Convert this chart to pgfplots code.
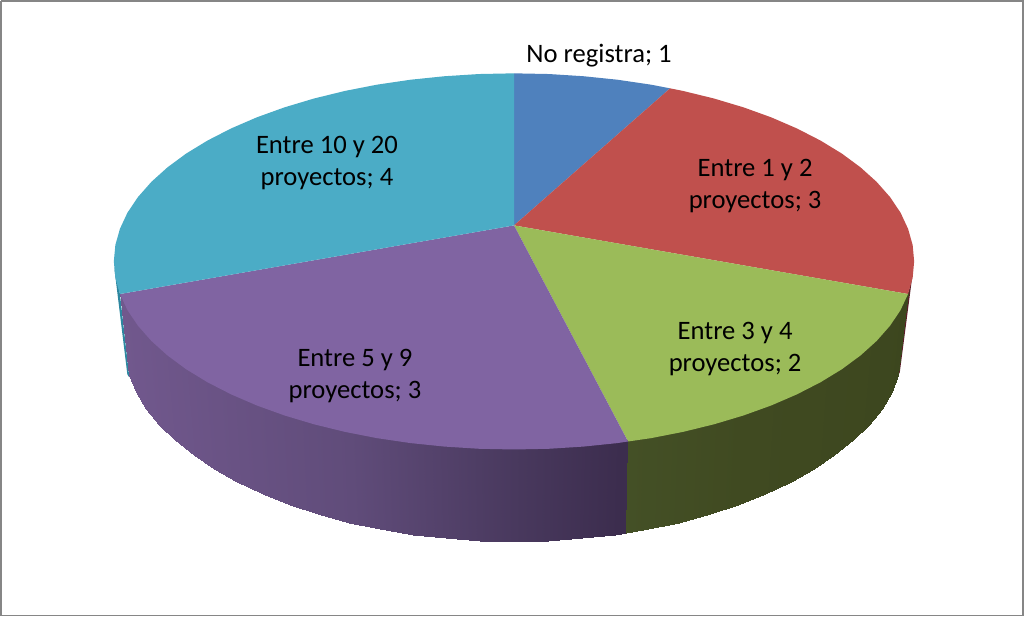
\documentclass[border=0pt]{standalone}
\usepackage{pgfplots}
\pgfplotsset{compat=1.18}
\usepackage{fontspec}
\setmainfont{Carlito}
\definecolor{sliceblue}{RGB}{79,129,189}
\definecolor{slicered}{RGB}{192,80,77}
\definecolor{slicegreen}{RGB}{155,187,89}
\definecolor{slicepurple}{RGB}{128,100,162}
\definecolor{slicecyan}{RGB}{75,172,198}
\definecolor{sidecyan}{RGB}{45,135,160}
\definecolor{sidered}{RGB}{90,30,40}
\definecolor{framegray}{RGB}{134,134,134}
\tikzset{datalabel/.style={font=\fontsize{26.6}{32}\selectfont, align=center, text=black, inner sep=0pt}}
\pgfplotsset{wallpart/.style={surf, shader=interp, mesh/rows=2, point meta=\thisrow{c}}}
\begin{document}
\begin{tikzpicture}
\begin{axis}[
  scale only axis, width=1024pt, height=617pt,
  xmin=0, xmax=1024, ymin=0, ymax=617, y dir=reverse,
  hide axis, clip=false,
  point meta min=0, point meta max=1000,
  colormap={sidewall}{rgb255(0)=(113,88,141); rgb255(230)=(96,76,122); rgb255(394)=(73,57,94); rgb255(500)=(60,45,78);
    rgb255(501)=(68,80,38); rgb255(650)=(64,74,33); rgb255(1000)=(60,70,30)},
]
% chart frame
\addplot[draw=framegray, line width=1.6pt] coordinates {(1,1.5) (1023,1.5) (1023,616) (1,616) (1,1.5)};

% thin visible edges of the far side
\addplot[fill=sidecyan, draw=none] coordinates {(114.4,268) (127.5,375) (129.5,378) (120.1,294.6)} -- cycle;
\addplot[fill=sidered, draw=none] coordinates {(907.9,294.6) (912,278) (899.6,373) (897.5,377)} -- cycle;

% front wall, purple and green parts: upper edge (tucked under the top face) then lower edge
\addplot[wallpart] table {
x y c
628 440 500
617.5 441.6 497
583.5 445.1 463
548.9 447.3 429
514 448 394
479.1 447.3 359
444.5 445.1 324
410.5 441.6 290
377.2 436.7 257
345 430.4 225
314 422.8 194
284.6 414 165
256.9 404 137
231.2 392.9 111
207.6 380.8 88
186.3 367.8 66
167.6 354 48
151.5 339.5 31
138.1 324.3 18
127.6 308.7 8
120.1 292.6 0
625.7 533.6 500
615.2 535.1 497
581.9 538.9 463
548.1 541.2 429
514 542 394
479.9 541.2 359
446.1 538.9 324
412.8 535.1 290
380.3 529.8 257
348.8 523.1 225
318.5 514.9 194
289.7 505.5 165
262.7 494.7 137
237.5 482.8 111
214.5 469.8 88
193.7 455.9 66
175.4 441 48
159.6 425.4 31
146.6 409.1 18
136.3 392.3 8
128.9 375.1 0
};
\addplot[wallpart] table {
x y c
907.9 292.6 1000
900.4 308.7 960
889.9 324.3 920
876.5 339.5 880
860.4 354 850
841.7 367.8 810
820.4 380.8 770
796.8 392.9 730
771.1 404 690
743.4 414 650
714 422.8 610
683 430.4 570
650.8 436.7 530
628 440 501
897.5 375.1 1000
891.7 392.3 960
881.4 409.1 920
868.4 425.4 880
852.6 441 850
834.3 455.9 810
813.5 469.8 770
790.5 482.8 730
765.3 494.7 690
738.3 505.5 650
709.5 514.9 610
679.2 523.1 570
647.7 529.8 530
625.7 533.6 501
};

% top face slices: No registra, 1
\addplot[fill=sliceblue, draw=none] coordinates {(514,226) (514,74) (548.9,74.7) (583.5,76.9) (617.5,80.4) (650.8,85.3) (670,89)} -- cycle;
% Entre 1 y 2 proyectos, 3
\addplot[fill=slicered, draw=none] coordinates {(514,226) (670,89) (683,91.6) (714,99.2) (743.4,108) (771.1,118) (796.8,129.1) (820.4,141.2) (841.7,154.2) (860.4,168) (876.5,182.5) (889.9,197.7) (900.4,213.3) (907.9,229.4) (912.5,245.6) (914,262) (912.5,278.4) (907.9,294.6)} -- cycle;
% Entre 3 y 4 proyectos, 2
\addplot[fill=slicegreen, draw=none] coordinates {(514,226) (907.9,294.6) (900.4,310.7) (889.9,326.3) (876.5,341.5) (860.4,356) (841.7,369.8) (820.4,382.8) (796.8,394.9) (771.1,406) (743.4,416) (714,424.8) (683,432.4) (650.8,438.7) (628,442)} -- cycle;
% Entre 5 y 9 proyectos, 3
\addplot[fill=slicepurple, draw=none] coordinates {(514,226) (628,442) (617.5,443.6) (583.5,447.1) (548.9,449.3) (514,450) (479.1,449.3) (444.5,447.1) (410.5,443.6) (377.2,438.7) (345,432.4) (314,424.8) (284.6,416) (256.9,406) (231.2,394.9) (207.6,382.8) (186.3,369.8) (167.6,356) (151.5,341.5) (138.1,326.3) (127.6,310.7) (120.1,294.6)} -- cycle;
% Entre 10 y 20 proyectos, 4
\addplot[fill=slicecyan, draw=none] coordinates {(514,226) (120.1,294.6) (115.5,278.4) (114,262) (115.5,245.6) (120.1,229.4) (127.6,213.3) (138.1,197.7) (151.5,182.5) (167.6,168) (186.3,154.2) (207.6,141.2) (231.2,129.1) (256.9,118) (284.6,108) (314,99.2) (345,91.6) (377.2,85.3) (410.5,80.4) (444.5,76.9) (479.1,74.7) (514,74)} -- cycle;

% data labels
\node[datalabel] at (axis cs:599,56) {No registra; 1};
\node[datalabel] at (axis cs:755,187) {Entre 1 y 2\\proyectos; 3};
\node[datalabel] at (axis cs:735,350) {Entre 3 y 4\\proyectos; 2};
\node[datalabel] at (axis cs:355,377) {Entre 5 y 9\\proyectos; 3};
\node[datalabel] at (axis cs:327,164) {Entre 10 y 20\\proyectos; 4};
\end{axis}
\end{tikzpicture}
\end{document}
